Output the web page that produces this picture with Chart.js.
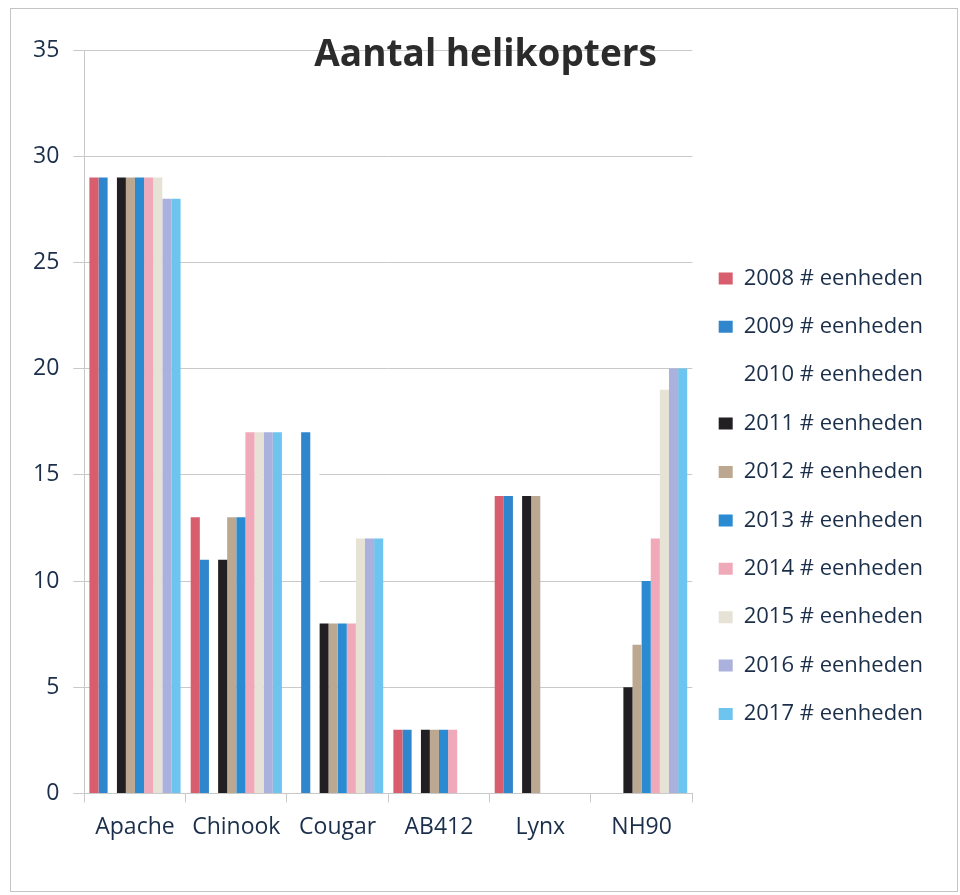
<!DOCTYPE html>
<html>
<head>
<meta charset="utf-8">
<script src="https://cdn.jsdelivr.net/npm/chart.js@4"></script>
<style>
  body { margin: 0; background: #fff; }
  #wrap { position: relative; width: 960px; height: 895px; }
  #frame { position: absolute; left: 10px; top: 8px; width: 946px; height: 882px; border: 1px solid #c4c4c4; pointer-events: none; }
</style>
</head>
<body>
<div id="wrap">
  <canvas id="heliChart"></canvas>
  <div id="frame"></div>
</div>
<script>
// categorieen en aantallen per jaar
var types = ['Apache', 'Chinook', 'Cougar', 'AB412', 'Lynx', 'NH90'];
var yTicks = [0, 5, 10, 15, 20, 25, 30, 35];

var y2008 = [29, 13, 0, 3, 14, 0];
var y2009 = [29, 11, 17, 3, 14, 0];
var y2010 = [29, 13, 17, 3, 14, 0];
var y2011 = [29, 11, 8, 3, 14, 5];
var y2012 = [29, 13, 8, 3, 14, 7];
var y2013 = [29, 13, 8, 3, 0, 10];
var y2014 = [29, 17, 8, 3, 0, 12];
var y2015 = [29, 17, 12, 0, 0, 19];
var y2016 = [28, 17, 12, 0, 0, 20];
var y2017 = [28, 17, 12, 0, 0, 20];

var navy = '#1b2f4b';
var gridGray = '#c9c9c9';

function ds(label, data, color) {
  return { label: label, data: data, backgroundColor: color, borderWidth: 0 };
}

function drawChart() {
  var ctx = document.getElementById('heliChart').getContext('2d');
  var chart = new Chart(ctx, {
    type: 'bar',
    data: {
        labels: types,
        datasets: [
          ds('2008 # eenheden', y2008, '#d95e6d'),
          ds('2009 # eenheden', y2009, '#2f86cc'),
          ds('2010 # eenheden', y2010, '#ffffff'),
          ds('2011 # eenheden', y2011, '#211f22'),
          ds('2012 # eenheden', y2012, '#bca791'),
          ds('2013 # eenheden', y2013, '#2a8bd2'),
          ds('2014 # eenheden', y2014, '#f0a9b9'),
          ds('2015 # eenheden', y2015, '#e6e3d6'),
          ds('2016 # eenheden', y2016, '#a9b1dc'),
          ds('2017 # eenheden', y2017, '#6dc4ee')
        ]
    },
    options: {
        responsive: true,
        maintainAspectRatio: false,
        animation: false,
        datasets: { bar: { categoryPercentage: 0.9, barPercentage: 1.0 } },
        layout: { padding: { left: 19, right: 27, top: 0, bottom: 43 } },
        plugins: {
            title: {
                display: true,
                text: '  Aantal helikopters',
                color: '#2b2b2b',
                font: { family: 'Open Sans', size: 37, weight: 'bold' },
                padding: { top: 33, bottom: -27.4 }
            },
            legend: {
                position: 'right',
                align: 'start',
                maxWidth: 320,
                title: { display: true, text: '', font: { size: 10 }, padding: { top: 229, bottom: 0 } },
                labels: {
                    boxWidth: 14,
                    boxHeight: 12,
                    padding: 26.4,
                    color: navy,
                    font: { family: 'Open Sans', size: 22 }
                }
            },
            tooltip: { enabled: false }
        },
        scales: {
            x: {
                grid: { drawOnChartArea: false, tickLength: 9, color: gridGray },
                border: { color: gridGray },
                ticks: { color: navy, padding: 11, maxRotation: 0, autoSkip: false,
                         font: { family: 'Open Sans', size: 23 } }
            },
            y: {
                min: 0,
                max: 35,
                afterBuildTicks: function(scale) {
                    scale.ticks = yTicks.map(function(v) { return { value: v }; });
                },
                grid: { color: gridGray, tickLength: 11 },
                border: { color: gridGray },
                ticks: { color: navy, padding: 14, font: { family: 'Open Sans', size: 23 } }
            }
        }
    }
  });
}

Promise.all([
  document.fonts.load('22px "Open Sans"'),
  document.fonts.load('bold 37px "Open Sans"')
]).then(drawChart, drawChart);
</script>
</body>
</html>
